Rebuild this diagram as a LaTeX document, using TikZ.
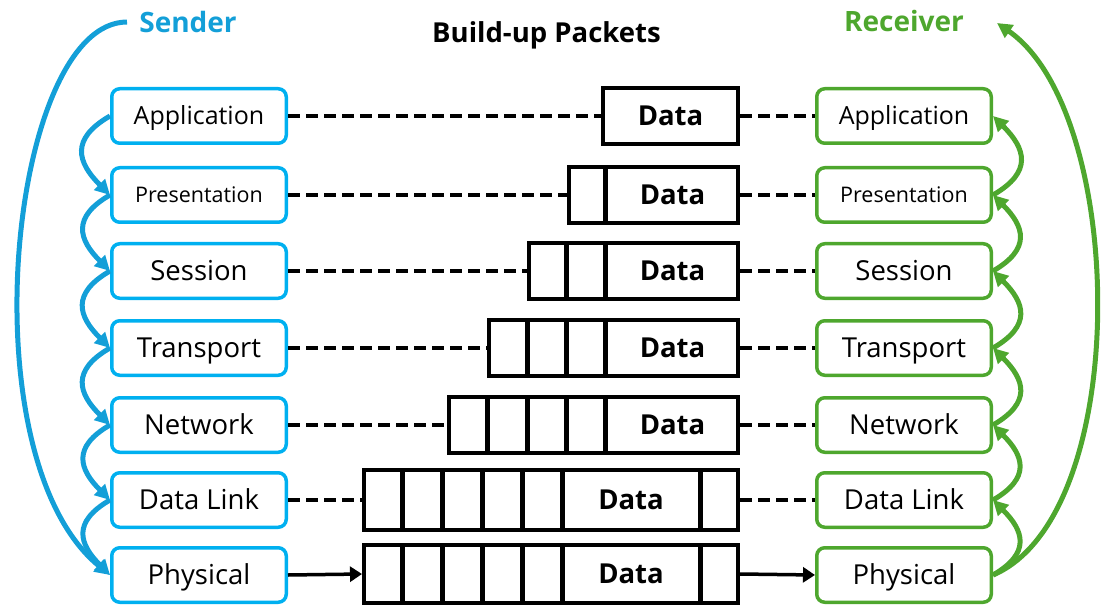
\documentclass[tikz,border=0pt]{standalone}
\usepackage{fontspec}
\setmainfont{Open Sans}
\usetikzlibrary{arrows.meta}
\definecolor{layerblue}{HTML}{00B0F0}
\definecolor{flowblue}{HTML}{139FD8}
\definecolor{layergreen}{HTML}{4EA72E}

\begin{document}
\begin{tikzpicture}[x=1pt,y=1pt,
  layer/.style={draw, line width=3.5pt, rounded corners=8pt,
    minimum width=174.5pt, minimum height=54.5pt, inner sep=0pt,
    text height=19.6pt, text depth=0pt,
    font=\fontsize{27.5}{32}\selectfont, text=black},
  top layer/.style={font=\fontsize{25}{30}\selectfont, text height=17.8pt},
  small layer/.style={font=\fontsize{21.5}{26}\selectfont, text height=15.3pt},
  sendbox/.style={layer, draw=layerblue},
  recvbox/.style={layer, draw=layergreen},
  packet/.style={draw=black, line width=4pt, inner sep=0pt},
  divider/.style={draw=black, line width=5pt},
  datalabel/.style={font=\bfseries\fontsize{27.5}{32}\selectfont,
    text height=19.6pt, text depth=0pt, inner sep=0pt},
  dashline/.style={draw=black, line width=3.5pt, dash pattern=on 12pt off 6pt},
  wirearrow/.style={draw=black, line width=3.5pt, -{Triangle[length=12pt,width=15pt]}},
  flowB/.style={draw=flowblue, line width=5pt, -{Triangle[length=15pt,width=15pt]}},
  flowG/.style={draw=layergreen, line width=5pt, -{Triangle[length=15pt,width=15pt]}},
  heading/.style={font=\bfseries\fontsize{28}{33}\selectfont, inner sep=0pt, anchor=base}
]
\useasboundingbox (0,0) rectangle (1105,606);

% headings
\node[heading, text=flowblue] (snd) at (188,573) {Sender};
\node[heading, text=layergreen] (rcv) at (904,574) {Receiver};
\node[heading, text=black, font=\bfseries\fontsize{27.5}{32}\selectfont] (ttl) at (546.5,563) {Build-up Packets};
\coordinate (sndstart) at (127,584);
\coordinate (rcvend) at (997,583);

% sender stack
\node[sendbox, top layer] (L1) at (199,490) {Application};
\node[sendbox, small layer] (L2) at (199,411) {Presentation};
\node[sendbox] (L3) at (199,335) {Session};
\node[sendbox] (L4) at (199,258) {Transport};
\node[sendbox] (L5) at (199,181) {Network};
\node[sendbox] (L6) at (199,106) {Data Link};
\node[sendbox] (L7) at (199,31) {Physical};

% receiver stack
\node[recvbox, top layer] (R1) at (904,490) {Application};
\node[recvbox, small layer] (R2) at (904,411) {Presentation};
\node[recvbox] (R3) at (904,335) {Session};
\node[recvbox] (R4) at (904,258) {Transport};
\node[recvbox] (R5) at (904,181) {Network};
\node[recvbox] (R6) at (904,106) {Data Link};
\node[recvbox] (R7) at (904,31) {Physical};

% packets: outer frames
\node[packet, minimum width=135pt, minimum height=56pt] (P1) at (670.5,490) {};
\node[packet, minimum width=169pt, minimum height=56pt] (P2) at (653.5,411) {};
\node[packet, minimum width=209pt, minimum height=56pt] (P3) at (633.5,335) {};
\node[packet, minimum width=249pt, minimum height=56pt] (P4) at (613.5,258) {};
\node[packet, minimum width=289pt, minimum height=56pt] (P5) at (593.5,181) {};
\node[packet, minimum width=374pt, minimum height=60pt] (P6) at (551,106) {};
\node[packet, minimum width=374pt, minimum height=58pt] (P7) at (551,32) {};

% header and trailer fields
\foreach \x in {605} \draw[divider] (\x,383) -- (\x,439);
\foreach \x in {566,605} \draw[divider] (\x,307) -- (\x,363);
\foreach \x in {527,566,605} \draw[divider] (\x,230) -- (\x,286);
\foreach \x in {487,527,566,605} \draw[divider] (\x,153) -- (\x,209);
\foreach \x in {402,442,482,522,562,700} \draw[divider] (\x,76) -- (\x,136);
\foreach \x in {402,442,482,522,562,700} \draw[divider] (\x,3) -- (\x,61);

% payload labels
\node[datalabel] (D1) at (670.5,490) {Data};
\node[datalabel] (D2) at (672.5,411) {Data};
\node[datalabel] (D3) at (672.5,335) {Data};
\node[datalabel] (D4) at (672.5,258) {Data};
\node[datalabel] (D5) at (672.5,181) {Data};
\node[datalabel] (D6) at (631,106) {Data};
\node[datalabel] (D7) at (631,32) {Data};

% peer links
\foreach \i in {1,...,6} {
  \draw[dashline] (L\i.east) -- (P\i.west);
  \draw[dashline] (P\i.east) -- (R\i.west);
}
\draw[wirearrow] (L7.east) -- (P7.west);
\draw[wirearrow] (P7.east) -- (R7.west);

% encapsulation down the sender stack
\foreach \i/\j in {1/2,2/3,3/4,4/5,5/6,6/7}
  \draw[flowB] (L\i.west) to[out=210,in=135,looseness=1.5] (L\j.west);
\draw[flowB] (sndstart) .. controls +(-117,0) and +(-145,119) .. (L7.west);

% decapsulation up the receiver stack
\foreach \i/\j in {2/1,3/2,4/3,5/4,6/5,7/6}
  \draw[flowG] (R\i.east) to[out=30,in=-45,looseness=1.5] (R\j.east);
\draw[flowG] (R7.east) .. controls +(140,60) and +(130,-90) .. (rcvend);
\end{tikzpicture}
\end{document}
